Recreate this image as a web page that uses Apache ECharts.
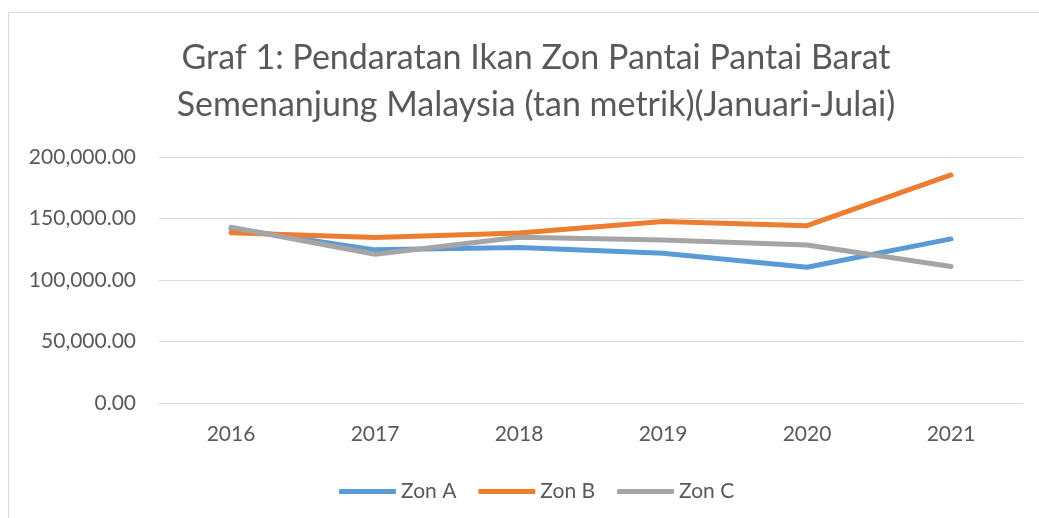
<!DOCTYPE html>
<html>
<head>
<meta charset="utf-8">
<script src="https://cdn.jsdelivr.net/npm/echarts@6/dist/echarts.min.js"></script>
<style>
  html, body { margin: 0; padding: 0; background: #fff; }
  #chart { width: 1039px; height: 518px; }
</style>
</head>
<body>
<div id="chart"></div>
<script>
// data
const years = ["2016", "2017", "2018", "2019", "2020", "2021"];
const zonA = [142000, 124500, 126400, 121800, 110400, 133400];
const zonB = [138500, 134500, 138300, 147500, 144200, 185400];
const zonC = [142900, 121000, 134800, 132600, 128500, 110900];
const seriesNames = ["Zon A", "Zon B", "Zon C"];
const colors = ["#5B9BD5", "#ED7D31", "#A5A5A5"];

const font = "Lato, 'Open Sans', sans-serif";
const textColor = "#595959";

function makeLine(name, values, color) {
  return {
    name: name,
    type: "line",
    data: values,
    symbol: "none",
    smooth: false,
    color: color,
    lineStyle: { width: 5, color: color, cap: "round", join: "round" },
  };
}

const chart = echarts.init(document.getElementById("chart"), null, { renderer: "canvas" });

chart.setOption({
  animation: false,
  backgroundColor: "#fff",
  graphic: [
    {
      type: "rect",
      shape: { x: 8.5, y: 12.5, width: 1100, height: 600 },
      style: { fill: "none", stroke: "#d9d9d9", lineWidth: 1 },
      silent: true,
    },
  ],
  title: {
    text: "Graf 1: Pendaratan Ikan Zon Pantai Pantai Barat\nSemenanjung Malaysia (tan metrik)(Januari-Julai)",
    left: 531,
    top: 30,
    textAlign: "center",
    textStyle: {
      fontFamily: font,
      fontSize: 34,
      fontWeight: "normal",
      color: textColor,
      lineHeight: 47,
    },
  },
  grid: { left: 159, right: 16, top: 157, bottom: 115 },
  legend: {
    data: seriesNames,
    left: 334,
    top: 476,
    itemWidth: 57,
    itemHeight: 5,
    itemGap: 22,
    icon: "roundRect",
    textStyle: { fontFamily: font, fontSize: 21, color: textColor },
  },
  xAxis: {
    type: "category",
    data: years,
    boundaryGap: true,
    axisLine: { show: true, lineStyle: { color: "#d9d9d9", width: 1 } },
    axisTick: { show: false },
    axisLabel: { fontFamily: font, fontSize: 21, color: textColor, margin: 21 },
  },
  yAxis: {
    type: "value",
    min: 0,
    max: 200000,
    interval: 50000,
    axisLine: { show: false },
    axisTick: { show: false },
    splitLine: { lineStyle: { color: "#d9d9d9", width: 1 } },
    axisLabel: {
      fontFamily: font,
      fontSize: 21,
      color: textColor,
      margin: 23,
      formatter: (v) =>
        v.toLocaleString("en-US", { minimumFractionDigits: 2, maximumFractionDigits: 2 }),
    },
  },
  series: [
    makeLine(seriesNames[0], zonA, colors[0]),
    makeLine(seriesNames[1], zonB, colors[1]),
    makeLine(seriesNames[2], zonC, colors[2]),
  ],
});
</script>
</body>
</html>
